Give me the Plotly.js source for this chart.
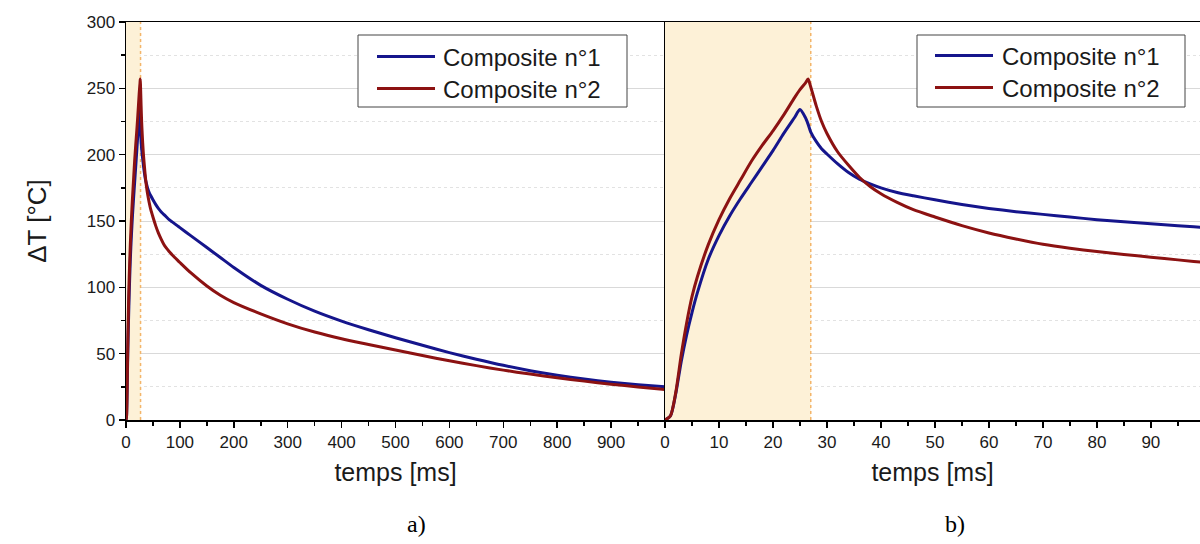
<!DOCTYPE html>
<html>
<head>
<meta charset="utf-8">
<script src="https://cdn.plot.ly/plotly-3.0.1.min.js"></script>
<style>
html,body{margin:0;padding:0;background:#fff;}
#chart{width:1200px;height:544px;}
</style>
</head>
<body>
<div id="chart"></div>
<script>
// ---- data ----
const timeMs = [0,1,2,3,4,5,6,8,10,12,14,16,18,20,22,24,25,26,26.5,27,28,29,30,32,34,36,38,40,43,46,50,55,60,65,70,75,80,85,90,95,100,120,150,175,200,250,300,350,400,450,500,550,600,650,700,750,800,850,900,950,1000];
const composite1 = [0,3,20,44,64,81,96,121,139,154,167,179,191,203,216,228,234,228,223,217,210,204.5,200.5,193,186.5,181.5,178,175,171.5,169,166,162.5,159.5,157,155,153,151,149.5,148,146.5,145,139,130,122.5,115,101.5,91,82,74.5,68,62,56.3,50.8,45.8,41.2,37.2,33.8,30.9,28.5,26.6,25];
const composite2 = [0,3,21,49,73,93,108,132,151,167,181,195,207,218,230,243,249,254,257,251,237,225,216,202,192,183,176,170.5,164,158.5,153,146.5,141,136.5,132.5,129.5,127,124.8,122.7,120.7,118.7,111,101,94,88.5,80,72.5,66.3,61.2,56.9,52.7,48.6,44.6,41,37.6,34.6,31.8,29.3,27,24.9,23];
const seriesNames = ['Composite n°1', 'Composite n°2'];
const pulseEndMs = 27;
const xTicksA = [0,100,200,300,400,500,600,700,800,900];
const xMinorA = [50,150,250,350,450,550,650,750,850,950];
const xTicksB = [0,10,20,30,40,50,60,70,80,90];
const xMinorB = [5,15,25,35,45,55,65,75,85,95];
const yTicks = [0,50,100,150,200,250,300];
const yMinor = [25,75,125,175,225,275];
const xTitle = 'temps [ms]';
const yTitle = 'ΔT [°C]';
const panelLabels = ['a)', 'b)'];

// ---- style ----
const W = 1200, H = 544;
const px = v => v / W;
const py = v => 1 - v / H;
const colors = ['#15158c', '#8c1212'];
const sansFont = 'Liberation Sans, Arial, sans-serif';
const tickFont = {family: sansFont, size: 17, color: '#1a1a1a'};
const titleFont = {family: sansFont, size: 25, color: '#1a1a1a'};

const yDomain = [py(420), py(22)];

function xAxis(domain, range, ticks, minor, anchor) {
  return {
    domain: domain, range: range, anchor: anchor,
    tickmode: 'array', tickvals: ticks,
    ticks: 'outside', ticklen: 6, tickwidth: 1.5, tickcolor: '#000',
    minor: {tickmode: 'array', tickvals: minor, ticks: 'outside', ticklen: 4, tickwidth: 1.5, tickcolor: '#000', showgrid: false},
    showline: true, linecolor: '#000', linewidth: 1.5, mirror: true,
    showgrid: false, zeroline: false,
    tickfont: tickFont,
    title: {text: xTitle, font: titleFont, standoff: 12},
    automargin: false, fixedrange: true
  };
}
function yAxis(anchor, labels) {
  return {
    domain: yDomain, range: [0, 300], anchor: anchor,
    tickmode: 'array', tickvals: yTicks,
    ticks: labels ? 'outside' : '', ticklen: 6, tickwidth: 1.5, tickcolor: '#000',
    showticklabels: labels,
    minor: {tickmode: 'array', tickvals: yMinor, ticks: labels ? 'outside' : '', ticklen: 4, tickwidth: 1.5, tickcolor: '#000',
            showgrid: true, gridcolor: '#e2e2e2', gridwidth: 1, griddash: 'dot'},
    showline: true, linecolor: '#000', linewidth: 1.5, mirror: false,
    showgrid: true, gridcolor: '#d9d9d9', gridwidth: 1, zeroline: false,
    tickfont: tickFont,
    title: labels ? {text: yTitle, font: {family: sansFont, size: 26, color: '#1a1a1a'}, standoff: 32} : {text: ''},
    automargin: false, fixedrange: true
  };
}

const series = [composite1, composite2];
const traces = [];
[['x', 'y'], ['x2', 'y2']].forEach(([xa, ya]) => {
  series.forEach((vals, i) => {
    traces.push({
      type: 'scatter', mode: 'lines', x: timeMs, y: vals, name: seriesNames[i],
      xaxis: xa, yaxis: ya, showlegend: false,
      line: {color: colors[i], width: 3, shape: 'spline', smoothing: 0.7}
    });
  });
});

const shapes = [];
const annotations = [];
[['x', 'y'], ['x2', 'y2']].forEach(([xa, ya]) => {
  shapes.push({type: 'rect', xref: xa, yref: ya, x0: 0, x1: pulseEndMs, y0: 0, y1: 300,
               fillcolor: '#fdf1d7', line: {width: 0}, layer: 'between'});
  shapes.push({type: 'line', xref: xa, yref: ya, x0: pulseEndMs, x1: pulseEndMs, y0: 0, y1: 300,
               line: {color: '#f3b56a', width: 1.5, dash: 'dot'}, layer: 'between'});
});

// legend boxes (one per panel)
const legendBoxes = [
  {x0: 358, x1: 627, lx0: 377, lx1: 435, tx: 441, rows: [56.5, 88.5]},
  {x0: 917, x1: 1185, lx0: 935, lx1: 993, tx: 1000, rows: [55.5, 87.5]}
];
legendBoxes.forEach(b => {
  shapes.push({type: 'rect', xref: 'paper', yref: 'paper', x0: px(b.x0), x1: px(b.x1), y0: py(107), y1: py(35),
               fillcolor: '#ffffff', line: {color: '#444', width: 1}, layer: 'above'});
  seriesNames.forEach((nm, i) => {
    shapes.push({type: 'line', xref: 'paper', yref: 'paper', x0: px(b.lx0), x1: px(b.lx1), y0: py(b.rows[i]), y1: py(b.rows[i]),
                 line: {color: colors[i], width: 3}, layer: 'above'});
    annotations.push({xref: 'paper', yref: 'paper', x: px(b.tx), y: py(b.rows[i] + 1), xanchor: 'left', yanchor: 'middle',
                      text: nm, showarrow: false, font: {family: sansFont, size: 24, color: '#1a1a1a'}});
  });
});

panelLabels.forEach((t, i) => {
  annotations.push({xref: 'paper', yref: 'paper', x: px([417, 955][i]), y: py(524), xanchor: 'center', yanchor: 'middle',
                    text: t, showarrow: false, font: {family: 'Liberation Serif, Times New Roman, serif', size: 24, color: '#000'}});
});

const layout = {
  width: W, height: H,
  margin: {l: 0, r: 0, t: 0, b: 0, pad: 0},
  paper_bgcolor: '#ffffff', plot_bgcolor: '#ffffff',
  showlegend: false,
  xaxis: xAxis([px(126), px(665)], [0, 1000], xTicksA, xMinorA, 'y'),
  yaxis: yAxis('x', true),
  xaxis2: xAxis([px(665), 1], [0, 99.1], xTicksB, xMinorB, 'y2'),
  yaxis2: yAxis('x2', false),
  shapes: shapes,
  annotations: annotations
};

Plotly.newPlot('chart', traces, layout, {displayModeBar: false, staticPlot: true});
</script>
</body>
</html>
